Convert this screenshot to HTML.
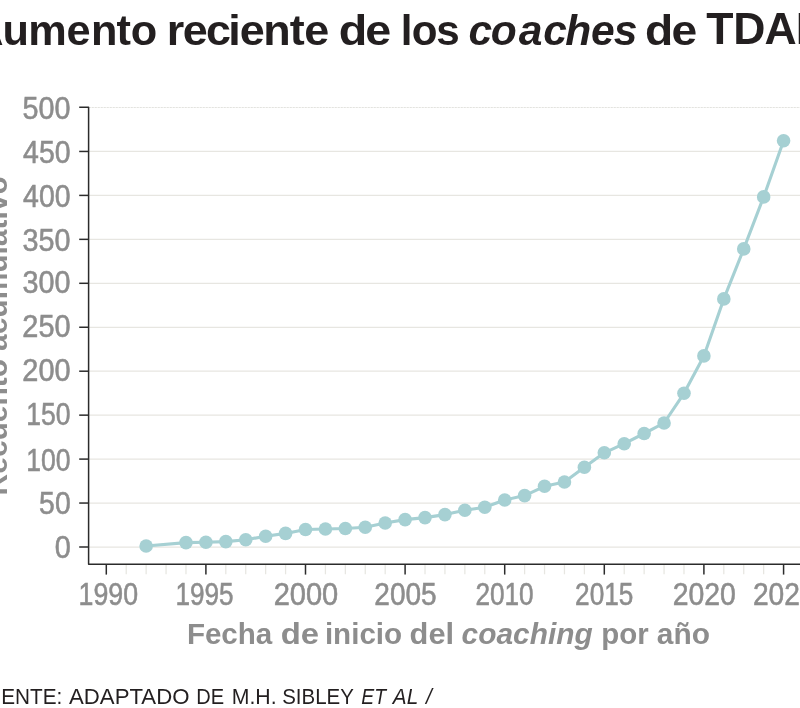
<!DOCTYPE html>
<html lang="es">
<head>
<meta charset="utf-8">
<title>Aumento reciente de los coaches de TDAH</title>
<style>
html,body{margin:0;padding:0;background:#fff;}
body{width:800px;height:708px;overflow:hidden;}
svg{display:block;font-family:"Liberation Sans",sans-serif;}
</style>
</head>
<body>
<svg width="800" height="708" viewBox="0 0 800 708">
<rect width="800" height="708" fill="#ffffff"/>
<line x1="88.6" y1="547.00" x2="800" y2="547.00" stroke="#e7e6e1" stroke-width="1.25"/>
<line x1="88.6" y1="503.05" x2="800" y2="503.05" stroke="#e7e6e1" stroke-width="1.25"/>
<line x1="88.6" y1="459.10" x2="800" y2="459.10" stroke="#e7e6e1" stroke-width="1.25"/>
<line x1="88.6" y1="415.15" x2="800" y2="415.15" stroke="#e7e6e1" stroke-width="1.25"/>
<line x1="88.6" y1="371.20" x2="800" y2="371.20" stroke="#e7e6e1" stroke-width="1.25"/>
<line x1="88.6" y1="327.25" x2="800" y2="327.25" stroke="#e7e6e1" stroke-width="1.25"/>
<line x1="88.6" y1="283.30" x2="800" y2="283.30" stroke="#e7e6e1" stroke-width="1.25"/>
<line x1="88.6" y1="239.35" x2="800" y2="239.35" stroke="#e7e6e1" stroke-width="1.25"/>
<line x1="88.6" y1="195.40" x2="800" y2="195.40" stroke="#e7e6e1" stroke-width="1.25"/>
<line x1="88.6" y1="151.45" x2="800" y2="151.45" stroke="#e7e6e1" stroke-width="1.25"/>
<line x1="88.6" y1="107.50" x2="800" y2="107.50" stroke="#e3e3df" stroke-width="1" stroke-dasharray="2.2 0.8"/>
<line x1="126.22" y1="564.3" x2="126.22" y2="574.30" stroke="#e7e6e1" stroke-width="1.25"/>
<line x1="146.14" y1="564.3" x2="146.14" y2="574.30" stroke="#e7e6e1" stroke-width="1.25"/>
<line x1="166.06" y1="564.3" x2="166.06" y2="574.30" stroke="#e7e6e1" stroke-width="1.25"/>
<line x1="185.98" y1="564.3" x2="185.98" y2="574.30" stroke="#e7e6e1" stroke-width="1.25"/>
<line x1="225.82" y1="564.3" x2="225.82" y2="574.30" stroke="#e7e6e1" stroke-width="1.25"/>
<line x1="245.74" y1="564.3" x2="245.74" y2="574.30" stroke="#e7e6e1" stroke-width="1.25"/>
<line x1="265.66" y1="564.3" x2="265.66" y2="574.30" stroke="#e7e6e1" stroke-width="1.25"/>
<line x1="285.58" y1="564.3" x2="285.58" y2="574.30" stroke="#e7e6e1" stroke-width="1.25"/>
<line x1="325.42" y1="564.3" x2="325.42" y2="574.30" stroke="#e7e6e1" stroke-width="1.25"/>
<line x1="345.34" y1="564.3" x2="345.34" y2="574.30" stroke="#e7e6e1" stroke-width="1.25"/>
<line x1="365.26" y1="564.3" x2="365.26" y2="574.30" stroke="#e7e6e1" stroke-width="1.25"/>
<line x1="385.18" y1="564.3" x2="385.18" y2="574.30" stroke="#e7e6e1" stroke-width="1.25"/>
<line x1="425.02" y1="564.3" x2="425.02" y2="574.30" stroke="#e7e6e1" stroke-width="1.25"/>
<line x1="444.94" y1="564.3" x2="444.94" y2="574.30" stroke="#e7e6e1" stroke-width="1.25"/>
<line x1="464.86" y1="564.3" x2="464.86" y2="574.30" stroke="#e7e6e1" stroke-width="1.25"/>
<line x1="484.78" y1="564.3" x2="484.78" y2="574.30" stroke="#e7e6e1" stroke-width="1.25"/>
<line x1="524.62" y1="564.3" x2="524.62" y2="574.30" stroke="#e7e6e1" stroke-width="1.25"/>
<line x1="544.54" y1="564.3" x2="544.54" y2="574.30" stroke="#e7e6e1" stroke-width="1.25"/>
<line x1="564.46" y1="564.3" x2="564.46" y2="574.30" stroke="#e7e6e1" stroke-width="1.25"/>
<line x1="584.38" y1="564.3" x2="584.38" y2="574.30" stroke="#e7e6e1" stroke-width="1.25"/>
<line x1="624.22" y1="564.3" x2="624.22" y2="574.30" stroke="#e7e6e1" stroke-width="1.25"/>
<line x1="644.14" y1="564.3" x2="644.14" y2="574.30" stroke="#e7e6e1" stroke-width="1.25"/>
<line x1="664.06" y1="564.3" x2="664.06" y2="574.30" stroke="#e7e6e1" stroke-width="1.25"/>
<line x1="683.98" y1="564.3" x2="683.98" y2="574.30" stroke="#e7e6e1" stroke-width="1.25"/>
<line x1="723.82" y1="564.3" x2="723.82" y2="574.30" stroke="#e7e6e1" stroke-width="1.25"/>
<line x1="743.74" y1="564.3" x2="743.74" y2="574.30" stroke="#e7e6e1" stroke-width="1.25"/>
<line x1="763.66" y1="564.3" x2="763.66" y2="574.30" stroke="#e7e6e1" stroke-width="1.25"/>
<polyline points="146.14,546.00 185.98,542.60 205.90,542.20 225.82,541.60 245.74,539.80 265.66,536.20 285.58,533.40 305.50,529.50 325.42,529.00 345.34,528.50 365.26,527.30 385.18,523.00 405.10,519.60 425.02,517.60 444.94,514.60 464.86,510.30 484.78,507.30 504.70,500.00 524.62,495.60 544.54,486.30 564.46,482.00 584.38,467.30 604.30,452.80 624.22,443.70 644.14,433.50 664.06,423.00 683.98,393.30 703.90,355.90 723.82,298.90 743.74,248.90 763.66,196.90 783.58,140.80" fill="none" stroke="#a6d0d3" stroke-width="3.1" stroke-linejoin="round"/>
<circle cx="146.14" cy="546.00" r="6.8" fill="#a6d0d3"/>
<circle cx="185.98" cy="542.60" r="6.8" fill="#a6d0d3"/>
<circle cx="205.90" cy="542.20" r="6.8" fill="#a6d0d3"/>
<circle cx="225.82" cy="541.60" r="6.8" fill="#a6d0d3"/>
<circle cx="245.74" cy="539.80" r="6.8" fill="#a6d0d3"/>
<circle cx="265.66" cy="536.20" r="6.8" fill="#a6d0d3"/>
<circle cx="285.58" cy="533.40" r="6.8" fill="#a6d0d3"/>
<circle cx="305.50" cy="529.50" r="6.8" fill="#a6d0d3"/>
<circle cx="325.42" cy="529.00" r="6.8" fill="#a6d0d3"/>
<circle cx="345.34" cy="528.50" r="6.8" fill="#a6d0d3"/>
<circle cx="365.26" cy="527.30" r="6.8" fill="#a6d0d3"/>
<circle cx="385.18" cy="523.00" r="6.8" fill="#a6d0d3"/>
<circle cx="405.10" cy="519.60" r="6.8" fill="#a6d0d3"/>
<circle cx="425.02" cy="517.60" r="6.8" fill="#a6d0d3"/>
<circle cx="444.94" cy="514.60" r="6.8" fill="#a6d0d3"/>
<circle cx="464.86" cy="510.30" r="6.8" fill="#a6d0d3"/>
<circle cx="484.78" cy="507.30" r="6.8" fill="#a6d0d3"/>
<circle cx="504.70" cy="500.00" r="6.8" fill="#a6d0d3"/>
<circle cx="524.62" cy="495.60" r="6.8" fill="#a6d0d3"/>
<circle cx="544.54" cy="486.30" r="6.8" fill="#a6d0d3"/>
<circle cx="564.46" cy="482.00" r="6.8" fill="#a6d0d3"/>
<circle cx="584.38" cy="467.30" r="6.8" fill="#a6d0d3"/>
<circle cx="604.30" cy="452.80" r="6.8" fill="#a6d0d3"/>
<circle cx="624.22" cy="443.70" r="6.8" fill="#a6d0d3"/>
<circle cx="644.14" cy="433.50" r="6.8" fill="#a6d0d3"/>
<circle cx="664.06" cy="423.00" r="6.8" fill="#a6d0d3"/>
<circle cx="683.98" cy="393.30" r="6.8" fill="#a6d0d3"/>
<circle cx="703.90" cy="355.90" r="6.8" fill="#a6d0d3"/>
<circle cx="723.82" cy="298.90" r="6.8" fill="#a6d0d3"/>
<circle cx="743.74" cy="248.90" r="6.8" fill="#a6d0d3"/>
<circle cx="763.66" cy="196.90" r="6.8" fill="#a6d0d3"/>
<circle cx="783.58" cy="140.80" r="6.8" fill="#a6d0d3"/>
<path d="M79.20 107.30 H88.6 V564.3 H800" fill="none" stroke="#2b2b2b" stroke-width="1.5" stroke-linejoin="round"/>
<line x1="79.20" y1="547.00" x2="88.6" y2="547.00" stroke="#2b2b2b" stroke-width="1.5"/>
<line x1="79.20" y1="503.05" x2="88.6" y2="503.05" stroke="#2b2b2b" stroke-width="1.5"/>
<line x1="79.20" y1="459.10" x2="88.6" y2="459.10" stroke="#2b2b2b" stroke-width="1.5"/>
<line x1="79.20" y1="415.15" x2="88.6" y2="415.15" stroke="#2b2b2b" stroke-width="1.5"/>
<line x1="79.20" y1="371.20" x2="88.6" y2="371.20" stroke="#2b2b2b" stroke-width="1.5"/>
<line x1="79.20" y1="327.25" x2="88.6" y2="327.25" stroke="#2b2b2b" stroke-width="1.5"/>
<line x1="79.20" y1="283.30" x2="88.6" y2="283.30" stroke="#2b2b2b" stroke-width="1.5"/>
<line x1="79.20" y1="239.35" x2="88.6" y2="239.35" stroke="#2b2b2b" stroke-width="1.5"/>
<line x1="79.20" y1="195.40" x2="88.6" y2="195.40" stroke="#2b2b2b" stroke-width="1.5"/>
<line x1="79.20" y1="151.45" x2="88.6" y2="151.45" stroke="#2b2b2b" stroke-width="1.5"/>
<line x1="106.30" y1="564.3" x2="106.30" y2="574.60" stroke="#2b2b2b" stroke-width="1.5"/>
<line x1="205.90" y1="564.3" x2="205.90" y2="574.60" stroke="#2b2b2b" stroke-width="1.5"/>
<line x1="305.50" y1="564.3" x2="305.50" y2="574.60" stroke="#2b2b2b" stroke-width="1.5"/>
<line x1="405.10" y1="564.3" x2="405.10" y2="574.60" stroke="#2b2b2b" stroke-width="1.5"/>
<line x1="504.70" y1="564.3" x2="504.70" y2="574.60" stroke="#2b2b2b" stroke-width="1.5"/>
<line x1="604.30" y1="564.3" x2="604.30" y2="574.60" stroke="#2b2b2b" stroke-width="1.5"/>
<line x1="703.90" y1="564.3" x2="703.90" y2="574.60" stroke="#2b2b2b" stroke-width="1.5"/>
<line x1="783.58" y1="564.3" x2="783.58" y2="574.60" stroke="#2b2b2b" stroke-width="1.5"/>
<text transform="scale(1.0312 1.020)" x="-26.83 2.33 27.43 64.49 88.17 113.00 126.81" y="44.02" font-size="42" font-weight="bold" font-style="normal" fill="#231f20">Aumento</text>
<text transform="scale(1.0699 1.020)" x="155.76 170.80 192.58 213.35 224.01 246.07 270.71 284.27" y="44.02" font-size="42" font-weight="bold" font-style="normal" fill="#231f20">reciente</text>
<text transform="scale(1.1115 1.020)" x="304.77 328.61" y="44.02" font-size="42" font-weight="bold" font-style="normal" fill="#231f20">de</text>
<text transform="scale(1.0042 1.020)" x="399.01 410.04 434.44" y="44.02" font-size="42" font-weight="bold" font-style="normal" fill="#231f20">los</text>
<text transform="scale(1.0134 1.020)" x="462.28 484.23 511.88 536.04 557.67 583.24 605.62" y="44.02" font-size="42" font-weight="bold" font-style="italic" fill="#231f20">coaches</text>
<text transform="scale(1.1006 1.020)" x="586.06 610.10" y="44.02" font-size="42" font-weight="bold" font-style="normal" fill="#231f20">de</text>
<text transform="scale(1.0616 1.065)" x="665.35 690.82 720.09 749.66" y="41.69" font-size="42" font-weight="bold" font-style="normal" fill="#231f20">TDAH</text>
<text transform="translate(54.70 558.40) scale(0.9614 1.030)" stroke="#8d8d8d" stroke-width="0.55" font-size="30" font-weight="normal" font-style="normal" fill="#8d8d8d">0</text>
<text transform="translate(39.12 514.30) scale(0.9452 1.030)" stroke="#8d8d8d" stroke-width="0.55" font-size="30" font-weight="normal" font-style="normal" fill="#8d8d8d">50</text>
<text transform="translate(26.21 470.55) scale(0.8856 1.030)" stroke="#8d8d8d" stroke-width="0.55" font-size="30" font-weight="normal" font-style="normal" fill="#8d8d8d">100</text>
<text transform="translate(26.21 425.10) scale(0.8856 1.030)" stroke="#8d8d8d" stroke-width="0.55" font-size="30" font-weight="normal" font-style="normal" fill="#8d8d8d">150</text>
<text transform="translate(22.35 381.30) scale(0.9642 1.030)" stroke="#8d8d8d" stroke-width="0.55" font-size="30" font-weight="normal" font-style="normal" fill="#8d8d8d">200</text>
<text transform="translate(22.35 336.70) scale(0.9642 1.030)" stroke="#8d8d8d" stroke-width="0.55" font-size="30" font-weight="normal" font-style="normal" fill="#8d8d8d">250</text>
<text transform="translate(22.60 292.60) scale(0.9592 1.030)" stroke="#8d8d8d" stroke-width="0.55" font-size="30" font-weight="normal" font-style="normal" fill="#8d8d8d">300</text>
<text transform="translate(22.60 251.00) scale(0.9592 1.030)" stroke="#8d8d8d" stroke-width="0.55" font-size="30" font-weight="normal" font-style="normal" fill="#8d8d8d">350</text>
<text transform="translate(23.09 207.20) scale(0.9492 1.030)" stroke="#8d8d8d" stroke-width="0.55" font-size="30" font-weight="normal" font-style="normal" fill="#8d8d8d">400</text>
<text transform="translate(23.09 162.60) scale(0.9492 1.030)" stroke="#8d8d8d" stroke-width="0.55" font-size="30" font-weight="normal" font-style="normal" fill="#8d8d8d">450</text>
<text transform="translate(22.60 119.40) scale(0.9592 1.030)" stroke="#8d8d8d" stroke-width="0.55" font-size="30" font-weight="normal" font-style="normal" fill="#8d8d8d">500</text>
<text transform="translate(78.59 604.60) scale(0.8917 1.030)" stroke="#8d8d8d" stroke-width="0.55" font-size="30" font-weight="normal" font-style="normal" fill="#8d8d8d">1990</text>
<text transform="translate(175.44 604.60) scale(0.8727 1.030)" stroke="#8d8d8d" stroke-width="0.55" font-size="30" font-weight="normal" font-style="normal" fill="#8d8d8d">1995</text>
<text transform="translate(273.65 604.60) scale(0.9688 1.030)" stroke="#8d8d8d" stroke-width="0.55" font-size="30" font-weight="normal" font-style="normal" fill="#8d8d8d">2000</text>
<text transform="translate(374.30 604.60) scale(0.9344 1.030)" stroke="#8d8d8d" stroke-width="0.55" font-size="30" font-weight="normal" font-style="normal" fill="#8d8d8d">2005</text>
<text transform="translate(475.39 604.60) scale(0.8734 1.030)" stroke="#8d8d8d" stroke-width="0.55" font-size="30" font-weight="normal" font-style="normal" fill="#8d8d8d">2010</text>
<text transform="translate(575.09 604.60) scale(0.8734 1.030)" stroke="#8d8d8d" stroke-width="0.55" font-size="30" font-weight="normal" font-style="normal" fill="#8d8d8d">2015</text>
<text transform="translate(672.68 604.60) scale(0.9469 1.030)" stroke="#8d8d8d" stroke-width="0.55" font-size="30" font-weight="normal" font-style="normal" fill="#8d8d8d">2020</text>
<text transform="translate(752.89 604.60) scale(0.9383 1.030)" stroke="#8d8d8d" stroke-width="0.55" font-size="30" font-weight="normal" font-style="normal" fill="#8d8d8d">2024</text>
<text transform="translate(186.89 643.80) scale(1.0557 1.030)" font-size="28" font-weight="bold" font-style="normal" fill="#8d8d8d">Fecha</text>
<text transform="translate(280.73 643.80) scale(1.1738 1.030)" font-size="28" font-weight="bold" font-style="normal" fill="#8d8d8d">de</text>
<text transform="translate(324.89 643.80) scale(1.0571 1.030)" font-size="28" font-weight="bold" font-style="normal" fill="#8d8d8d">inicio</text>
<text transform="translate(409.62 643.80) scale(1.1007 1.030)" font-size="28" font-weight="bold" font-style="normal" fill="#8d8d8d">del</text>
<text transform="translate(461.60 643.80) scale(1.0678 1.030)" font-size="28" font-weight="bold" font-style="italic" fill="#8d8d8d">coaching</text>
<text transform="translate(601.36 643.80) scale(1.0512 1.030)" font-size="28" font-weight="bold" font-style="normal" fill="#8d8d8d">por</text>
<text transform="translate(656.80 643.80) scale(1.0667 1.030)" font-size="28" font-weight="bold" font-style="normal" fill="#8d8d8d">año</text>
<text transform="translate(7.00 495.44) rotate(-90) scale(1.0707 1.040)" font-size="28" font-weight="bold" font-style="normal" fill="#8d8d8d">Recuento</text>
<text transform="translate(7.00 350.90) rotate(-90) scale(1.0687 1.040)" font-size="28" font-weight="bold" font-style="normal" fill="#8d8d8d">acumulativo</text>
<text transform="translate(-26.47 704.20) scale(0.9443 1.040)" font-size="22" font-weight="normal" font-style="normal" fill="#231f20">FUENTE:</text>
<text transform="translate(69.00 704.20) scale(1.0097 1.040)" font-size="22" font-weight="normal" font-style="normal" fill="#231f20">ADAPTADO</text>
<text transform="translate(196.20 704.20) scale(0.9117 1.040)" font-size="22" font-weight="normal" font-style="normal" fill="#231f20">DE</text>
<text transform="translate(231.71 704.20) scale(0.9661 1.040)" font-size="22" font-weight="normal" font-style="normal" fill="#231f20">M.H.</text>
<text transform="translate(282.17 704.20) scale(0.9311 1.040)" font-size="22" font-weight="normal" font-style="normal" fill="#231f20">SIBLEY</text>
<text transform="translate(361.24 704.20) scale(0.8800 1.040)" font-size="22" font-weight="normal" font-style="italic" fill="#231f20">ET</text>
<text transform="translate(392.84 704.20) scale(0.9410 1.040)" font-size="22" font-weight="normal" font-style="italic" fill="#231f20">AL</text>
<text transform="translate(425.89 704.20) scale(0.9514 1.040)" font-size="22" font-weight="normal" font-style="italic" fill="#231f20">/</text>
</svg>
</body>
</html>
